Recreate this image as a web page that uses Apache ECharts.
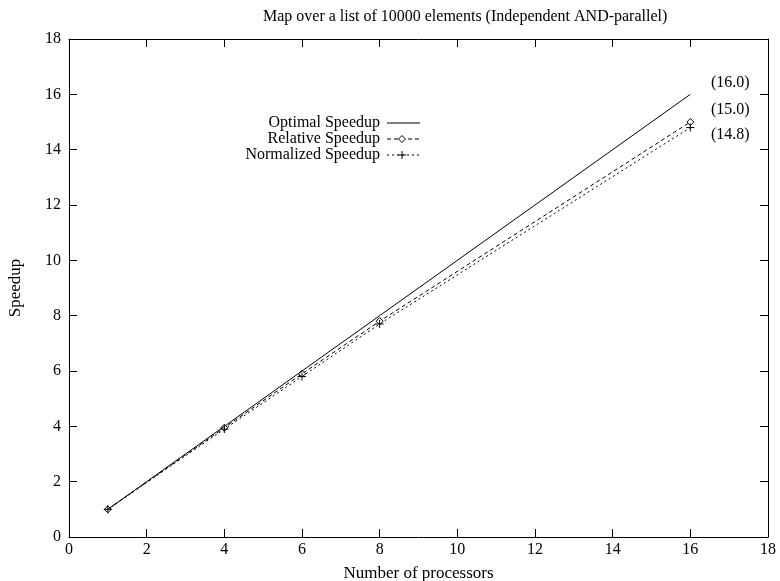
<!DOCTYPE html>
<html>
<head>
<meta charset="utf-8">
<script src="https://cdn.jsdelivr.net/npm/echarts@6/dist/echarts.min.js"></script>
<style>
  html, body { margin: 0; padding: 0; background: #fff; }
  #chart { width: 780px; height: 581px; }
</style>
</head>
<body>
<div id="chart"></div>
<script>
// data
const processors = [1, 4, 6, 8, 16];
const optimal = [1, 4, 6, 8, 16];
const relative = [1.0, 3.95, 5.9, 7.8, 15.0];
const normalized = [1.0, 3.9, 5.8, 7.7, 14.8];
const endLabels = ['(16.0)', '(15.0)', '(14.8)'];
const seriesNames = ['Optimal Speedup', 'Relative Speedup', 'Normalized Speedup'];

const font = 'Liberation Serif';
const pair = (ys) => processors.map((x, i) => [x, ys[i]]);
const plusPath = 'path://M0,5L10,5M5,0L5,10';

const chart = echarts.init(document.getElementById('chart'));

const axisCommon = {
  type: 'value',
  min: 0,
  max: 18,
  interval: 2,
  splitLine: { show: false },
  axisLine: { show: true, onZero: false, lineStyle: { color: '#000', width: 1 } },
  axisTick: { show: true, inside: true, length: 8, lineStyle: { color: '#000' } }
};

// gnuplot-style key: text on the left, line sample on the right
const keyY = [123, 139, 155];
const gfx = [];
seriesNames.forEach((name, i) => {
  gfx.push({
    type: 'text', x: 380, y: keyY[i],
    style: { text: name, font: '16px "' + font + '"', fill: '#000', align: 'right', verticalAlign: 'middle' }
  });
});
gfx.push(
  { type: 'line', shape: { x1: 387, y1: keyY[0], x2: 420, y2: keyY[0] }, style: { stroke: '#000', lineWidth: 1 } },
  { type: 'line', shape: { x1: 387, y1: keyY[1], x2: 420, y2: keyY[1] }, style: { stroke: '#000', lineWidth: 1, lineDash: [4, 3] } },
  { type: 'polygon', shape: { points: [[402, keyY[1] - 3.5], [405.5, keyY[1]], [402, keyY[1] + 3.5], [398.5, keyY[1]]] }, style: { fill: '#fff', stroke: '#000', lineWidth: 1 } },
  { type: 'line', shape: { x1: 387, y1: keyY[2], x2: 420, y2: keyY[2] }, style: { stroke: '#000', lineWidth: 1, lineDash: [2, 3] } },
  { type: 'line', shape: { x1: 398, y1: keyY[2], x2: 406, y2: keyY[2] }, style: { stroke: '#000', lineWidth: 1 } },
  { type: 'line', shape: { x1: 402, y1: keyY[2] - 4, x2: 402, y2: keyY[2] + 4 }, style: { stroke: '#000', lineWidth: 1 } }
);

const labelY = [83, 110, 135];
endLabels.forEach((t, i) => {
  gfx.push({
    type: 'text', x: 711, y: labelY[i],
    style: { text: t, font: '16px "' + font + '"', fill: '#000', verticalAlign: 'middle' }
  });
});

const option = {
  backgroundColor: '#fff',
  animation: false,
  title: {
    text: 'Map over a list of 10000 elements (Independent AND-parallel)',
    left: 258,
    top: 4,
    textStyle: { fontFamily: font, fontSize: 16, fontWeight: 'normal', color: '#000' }
  },
  grid: { left: 69, right: 12, top: 39, bottom: 44, outerBoundsMode: 'none' },
  xAxis: [
    {
      ...axisCommon,
      position: 'bottom',
      name: 'Number of processors',
      nameLocation: 'middle',
      nameGap: 28,
      nameTextStyle: { fontFamily: font, fontSize: 17, color: '#000' },
      axisLabel: { fontFamily: font, fontSize: 16, color: '#000', margin: 5 }
    },
    { ...axisCommon, position: 'top', axisLabel: { show: false } }
  ],
  yAxis: [
    {
      ...axisCommon,
      position: 'left',
      name: 'Speedup',
      nameLocation: 'middle',
      nameGap: 45,
      nameTextStyle: { fontFamily: font, fontSize: 17, color: '#000' },
      axisLabel: { fontFamily: font, fontSize: 16, color: '#000', margin: 8 }
    },
    { ...axisCommon, position: 'right', axisLabel: { show: false } }
  ],
  graphic: gfx,
  series: [
    {
      name: seriesNames[0],
      type: 'line',
      data: pair(optimal),
      showSymbol: false,
      lineStyle: { color: '#000', width: 1 },
      z: 3
    },
    {
      name: seriesNames[1],
      type: 'line',
      data: pair(relative),
      symbol: 'diamond',
      symbolSize: 7,
      itemStyle: { color: '#fff', borderColor: '#000', borderWidth: 1 },
      lineStyle: { color: '#000', width: 1, type: [4, 3] },
      z: 2
    },
    {
      name: seriesNames[2],
      type: 'line',
      data: pair(normalized),
      symbol: plusPath,
      symbolSize: 8,
      itemStyle: { color: 'none', borderColor: '#000', borderWidth: 1 },
      lineStyle: { color: '#000', width: 1, type: [2, 3] },
      z: 2
    }
  ]
};

chart.setOption(option);
</script>
</body>
</html>
